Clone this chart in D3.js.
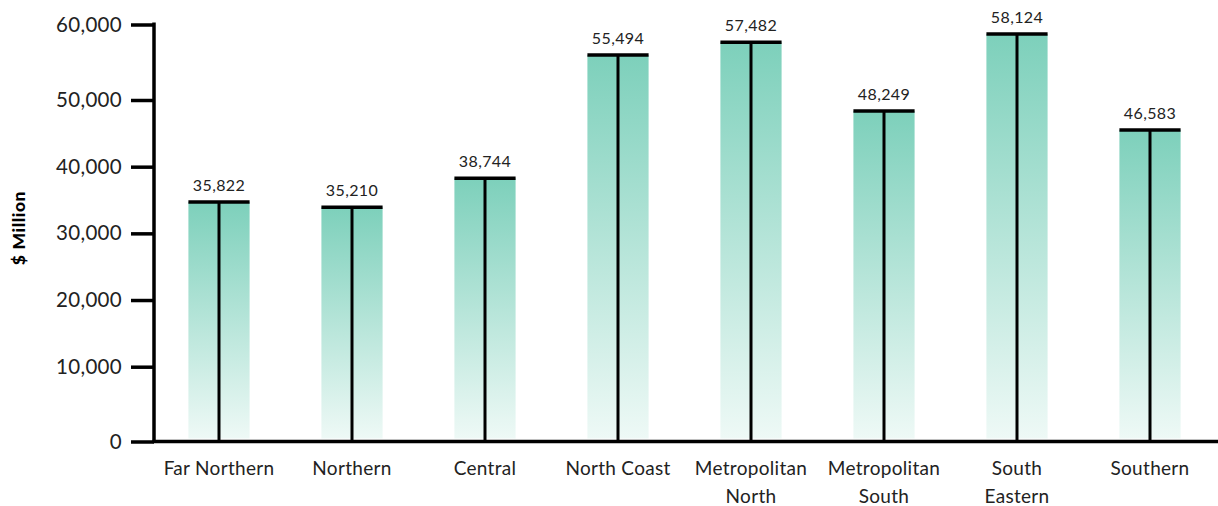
<!DOCTYPE html>
<html><head><meta charset="utf-8">
<script src="https://cdn.jsdelivr.net/npm/d3@7"></script>
<style>
html,body{margin:0;padding:0;background:#fff;}
svg{display:block;font-family:Lato,"Noto Sans",sans-serif;}
</style></head>
<body><svg id="chart" width="1218" height="506"></svg>
<script>
const categories = ["Far Northern","Northern","Central","North Coast","Metropolitan North","Metropolitan South","South Eastern","Southern"];
const categoryLines = [["Far Northern"],["Northern"],["Central"],["North Coast"],["Metropolitan","North"],["Metropolitan","South"],["South","Eastern"],["Southern"]];
const barValues = [34700, 33910, 38260, 55960, 57640, 48350, 58740, 45500];
const valueLabels = ["35,822","35,210","38,744","55,494","57,482","48,249","58,124","46,583"];
const yTicks = [0,10000,20000,30000,40000,50000,60000];
const yTitle = "$ Million";

const svg = d3.select("#chart");
const axisX = 154, baseY = 441.5, topY = 24.5;
const x = d3.scaleBand().domain(categories).range([152.5, 1216.5]).paddingInner(0.54).paddingOuter(0.27);
// the reference axis is not evenly spaced: end intervals are stretched
const y = d3.scaleLinear().domain([0,10000,50000,60000]).range([baseY, 366.7, 100, topY]);

const defs = svg.append("defs");
const grad = defs.append("linearGradient").attr("id","barGrad").attr("x1",0).attr("y1",0).attr("x2",0).attr("y2",1);
grad.append("stop").attr("offset","0%").attr("stop-color","#7dd0bb");
grad.append("stop").attr("offset","100%").attr("stop-color","#eef9f6");

const g = svg.append("g");
g.selectAll("rect.bar").data(categories).enter().append("rect")
  .attr("class","bar")
  .attr("x", d=>x(d)).attr("width", x.bandwidth())
  .attr("y", (d,i)=>y(barValues[i]))
  .attr("height", (d,i)=>y(0)-3-y(barValues[i]))
  .attr("fill","url(#barGrad)");
g.selectAll("line.stem").data(categories).enter().append("line")
  .attr("x1", d=>x(d)+x.bandwidth()/2).attr("x2", d=>x(d)+x.bandwidth()/2)
  .attr("y1", (d,i)=>y(barValues[i])).attr("y2", y(0))
  .attr("stroke","#000").attr("stroke-width",3);
g.selectAll("line.cap").data(categories).enter().append("line")
  .attr("x1", d=>x(d)).attr("x2", d=>x(d)+x.bandwidth())
  .attr("y1", (d,i)=>y(barValues[i])).attr("y2", (d,i)=>y(barValues[i]))
  .attr("stroke","#000").attr("stroke-width",3.5);
g.selectAll("text.val").data(categories).enter().append("text")
  .attr("x", d=>x(d)+x.bandwidth()/2)
  .attr("y", (d,i)=>y(barValues[i])-11)
  .attr("text-anchor","middle").attr("font-size",16).attr("fill","#222")
  .attr("letter-spacing","0.4")
  .text((d,i)=>valueLabels[i]);

const yAxis = d3.axisLeft(y).tickValues(yTicks).tickSize(23).tickPadding(9).tickFormat(d3.format(","));
const ya = svg.append("g").attr("transform",`translate(${axisX},0)`).call(yAxis);
ya.select(".domain").attr("stroke","#000").attr("stroke-width",3.5).attr("d",`M0,${topY-2}V${baseY}`);
ya.selectAll(".tick line").attr("stroke","#000").attr("stroke-width",3.5);
ya.selectAll(".tick text").attr("font-size",20.5).attr("fill","#222").attr("font-family","Lato,'Noto Sans',sans-serif").attr("letter-spacing","0.3");

const xa = svg.append("g").attr("transform",`translate(0,${baseY})`).call(d3.axisBottom(x).tickSize(0).tickFormat(""));
xa.select(".domain").attr("stroke","#000").attr("stroke-width",3.5).attr("d",`M${axisX-1.5},0H1218`);
categories.forEach((c,i)=>{
  const t = svg.append("text").attr("x", x(c)+x.bandwidth()/2).attr("y", 475)
    .attr("text-anchor","middle").attr("font-size",19).attr("fill","#222").attr("letter-spacing","0.3");
  categoryLines[i].forEach((ln,j)=>{
    t.append("tspan").attr("x", x(c)+x.bandwidth()/2).attr("dy", j===0?0:28).text(ln);
  });
});

svg.append("text").attr("transform","translate(25,228) rotate(-90)")
  .attr("text-anchor","middle").attr("font-size",17.5).attr("font-weight","900").attr("fill","#000")
  .attr("letter-spacing","0.6").text(yTitle);
</script></body></html>
